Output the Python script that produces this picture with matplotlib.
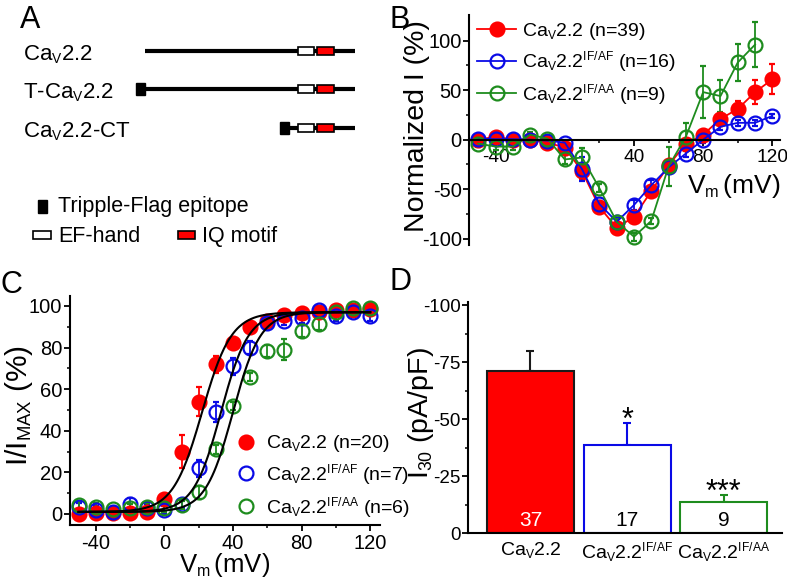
import numpy as np
import matplotlib.pyplot as plt
import matplotlib._mathtext as mathtext_internals
from matplotlib.patches import Rectangle
from matplotlib.lines import Line2D

plt.rcParams['font.family'] = ['Liberation Sans', 'DejaVu Sans']
plt.rcParams['mathtext.fontset'] = 'custom'
plt.rcParams['mathtext.rm'] = 'Liberation Sans'
plt.rcParams['mathtext.it'] = 'Liberation Sans:italic'
plt.rcParams['mathtext.bf'] = 'Liberation Sans:bold'
plt.rcParams['axes.unicode_minus'] = False
# smaller sub/superscripts, closer to the original figure
mathtext_internals.SHRINK_FACTOR = 0.62

RED = '#ff0000'
BLUE = '#0a0ae6'
GREEN = '#1e8c1e'

CA = 'Ca$_\\mathrm{V}$2.2'
names = [CA + ' (n=39)', CA + '$^\\mathrm{IF/AF}$ (n=16)', CA + '$^\\mathrm{IF/AA}$ (n=9)']
names_c = [CA + ' (n=20)', CA + '$^\\mathrm{IF/AF}$ (n=7)', CA + '$^\\mathrm{IF/AA}$ (n=6)']
VM = 'V$_\\mathrm{m}\\,$(mV)'

# ---- panel A: constructs (positions as fraction of channel length)
constructs = [CA, 'T-' + CA, CA + '-CT']
seg_start = [0.0, 0.0, 0.686]
has_flag = [False, True, True]
ef_hand = (0.728, 0.807)
iq_motif = (0.821, 0.902)

# ---- panel B: I-V
volt = [-50, -40, -30, -20, -10, 0, 10, 20, 30, 40, 50, 60, 70, 80, 90, 100, 110, 120]
iv_wt = [0, 3, 0, 0, -3, -8, -32, -68, -89, -78, -52, -26, -4, 5, 21, 31, 48, 61]
iv_wt_err = [2, 2, 2, 2, 2, 3, 8, 4, 3, 4, 4, 4, 3, 3, 5, 8, 12, 15]
iv_af = [1, 0.5, 0.5, 0, -1, -3, -30, -65, -83, -66, -46, -28, -14, 0, 13, 17, 17, 24]
iv_af_err = [3, 4, 3, 3, 2, 3, 12, 3, 4, 5, 5, 5, 4, 3, 3, 3, 3, 2]
iv_aa = [-4, -7, -7, 5, 1, -20, -18, -49, -83, -98, -82, -27, 3, 48, 44, 78, 96, np.nan]
iv_aa_err = [3, 3, 3, 3, 3, 5, 10, 4, 3, 4, 3, 20, 14, 26, 16, 19, 23, 0]

# ---- panel C: activation
act_wt = [0, 0.5, 0.5, 0.6, 1, 7, 30, 54, 72, 82, 90, 93, 95.5, 96.8, 97, 98, 98, 98.5]
act_wt_err = [1, 1, 1, 1, 1, 2, 8, 7, 4, 2, 2, 1, 1, 1, 1, 1, 1, 1]
act_af = [3.5, 2, 1, 4.6, 2.7, 2, 5, 22, 49, 71, 80, 92, 93, 94, 98, 95, 97, 95]
act_af_err = [2, 2, 1, 3, 2, 2, 2, 4, 5, 4, 3, 3, 2, 2, 2, 2, 2, 2]
act_aa = [4.3, 3.5, 2.2, 2.7, 3.5, 3, 4.3, 10.4, 31, 52, 66, 78.4, 79, 88, 91.4, 97, 99, 99]
act_aa_err = [2, 2, 1, 2, 2, 2, 2, 3, 2, 2, 2, 3, 5, 3, 3, 2, 2, 2]
# Boltzmann fit parameters
fit_vhalf = [22, 33, 40]
fit_k = [8.5, 8, 8]
fit_bottom = 1
fit_top = 97

# ---- panel D: I30
groups = [CA, CA + '$^\\mathrm{IF/AF}$', CA + '$^\\mathrm{IF/AA}$']
i30 = [-71.3, -38.6, -13.5]
i30_err = [8.4, 9.7, 3.2]
n_cells = ['37', '17', '9']
signif = ['', '*', '***']

colors = [RED, BLUE, GREEN]

fig = plt.figure(figsize=(7.87, 5.78), dpi=100)

# panel letters
for lab, x, y in [('A', 20 / 787, 1 - 28.5 / 578), ('B', 389 / 787, 1 - 28.5 / 578),
                  ('C', 0 / 787, 1 - 293 / 578), ('D', 390 / 787, 1 - 290 / 578)]:
    fig.text(x, y, lab, fontsize=22, va='baseline', ha='left')

# ================= A
axA = fig.add_axes([0, 0.5, 0.5, 0.5])
axA.set_xlim(-145 / 210, (393.5 - 145) / 210)
axA.set_ylim(289, 0)
axA.axis('off')
rows = [51, 89, 128]
for name, y, s, fl in zip(constructs, rows, seg_start, has_flag):
    axA.text(-0.58, y + 9, name, fontsize=16, va='baseline')
    axA.plot([s, 1.0], [y, y], color='k', lw=3, solid_capstyle='butt', zorder=1)
    if fl:
        axA.add_patch(Rectangle((s - 0.043, y - 6), 0.043, 12, color='k', zorder=2))
    axA.add_patch(Rectangle((ef_hand[0], y - 3.6), ef_hand[1] - ef_hand[0], 7.2,
                            fc='white', ec='k', lw=1.2, zorder=3))
    axA.add_patch(Rectangle((iq_motif[0], y - 3.6), iq_motif[1] - iq_motif[0], 7.2,
                            fc=RED, ec='k', lw=1.2, zorder=3))
axA.add_patch(Rectangle((-0.508, 199.5), 0.04, 13, color='k'))
axA.text(-0.413, 212.3, 'Tripple-Flag epitope', fontsize=15.5, va='baseline')
axA.add_patch(Rectangle((-0.532, 231), 0.083, 8, fc='white', ec='k', lw=1.2))
axA.text(-0.413, 241.7, 'EF-hand', fontsize=15.5, va='baseline')
axA.add_patch(Rectangle((0.159, 231), 0.079, 8, fc=RED, ec='k', lw=1.2))
axA.text(0.27, 241.7, 'IQ motif', fontsize=15.5, va='baseline')


def style_axis(ax, fs):
    for sp in ['top', 'right']:
        ax.spines[sp].set_visible(False)
    for sp in ['left', 'bottom']:
        ax.spines[sp].set_linewidth(1.5)
    ax.tick_params(which='major', length=4, width=1.3, labelsize=fs, pad=1.5)
    ax.tick_params(which='minor', length=2.5, width=1.1)


# ================= B
axB = fig.add_axes([469.3 / 787, 1 - 245 / 578, 310.7 / 787, 230 / 578])
style_axis(axB, 14.5)
axB.spines['bottom'].set_position(('data', 0))
iv_sets = [(iv_wt, iv_wt_err), (iv_af, iv_af_err), (iv_aa, iv_aa_err)]
for (vals, err), c, filled in zip(iv_sets, colors, [True, False, False]):
    axB.errorbar(volt, vals, yerr=err, fmt='-o', color=c, lw=1.3, ms=10,
                 mfc=c if filled else 'none', mec=c, mew=1.6,
                 elinewidth=1.3, capsize=2.2, capthick=1.3)
axB.set_xlim(-55.2, 124.4)
axB.set_ylim(-106.4, 125.9)
axB.set_xticks([-40, 0, 40, 80, 120])
axB.set_xticklabels(['-40', '', '40', '80', '120'])
axB.set_xticks([-20, 20, 60, 100], minor=True)
axB.set_yticks([-100, -50, 0, 50, 100])
axB.set_yticks([-75, -25, 25, 75], minor=True)
axB.tick_params(axis='x', pad=3, labelsize=13.8)
axB.text(1.0, 0.225, VM, transform=axB.transAxes, ha='right',
         va='baseline', fontsize=19)
axB.text(-0.146, 0.515, 'Normalized I (%)', transform=axB.transAxes, rotation=90,
         rotation_mode='anchor', ha='center', va='baseline', fontsize=20.5)
hB = [Line2D([], [], color=c, lw=1.3, marker='o', ms=10, mfc=c if f else 'none', mec=c, mew=1.6)
      for c, f in zip(colors, [True, False, False])]
axB.legend(hB, names, loc='upper left', bbox_to_anchor=(0.025, 0.975), frameon=False,
           fontsize=14, handlelength=2.0, handletextpad=0.3, labelspacing=0.4,
           borderpad=0, borderaxespad=0)

# ================= C
axC = fig.add_axes([70 / 787, 1 - 525 / 578, 310 / 787, 229 / 578])
style_axis(axC, 14.5)
act_sets = [(act_wt, act_wt_err), (act_af, act_af_err), (act_aa, act_aa_err)]
for (vals, err), c, filled in zip(act_sets, colors, [True, False, False]):
    axC.errorbar(volt, vals, yerr=err, fmt='o', color=c, ms=10,
                 mfc=c if filled else 'none', mec=c, mew=1.6,
                 elinewidth=1.3, capsize=2.2, capthick=1.3)
vfit = np.linspace(-50, 120, 300)
for vh, k in zip(fit_vhalf, fit_k):
    axC.plot(vfit, fit_bottom + (fit_top - fit_bottom) / (1 + np.exp((vh - vfit) / k)),
             color='k', lw=1.5, zorder=5)
axC.set_xlim(-55, 125.7)
axC.set_ylim(-5.3, 104.8)
axC.set_xticks([-40, 0, 40, 80, 120])
axC.set_xticks([-20, 20, 60, 100], minor=True)
axC.set_yticks([0, 20, 40, 60, 80, 100])
axC.set_yticks([10, 30, 50, 70, 90], minor=True)
axC.tick_params(axis='x', pad=2.5)
axC.text(0.5, -0.204, VM, transform=axC.transAxes, ha='center',
         va='baseline', fontsize=18.5)
axC.text(-0.140, 0.524, 'I/I$_\\mathrm{MAX}$ (%)', transform=axC.transAxes, rotation=90,
         rotation_mode='anchor', ha='center', va='baseline', fontsize=21.5)
hC = [Line2D([], [], ls='none', marker='o', ms=10, mfc=c if f else 'none', mec=c, mew=1.6)
      for c, f in zip(colors, [True, False, False])]
leg = axC.legend(hC, names_c, loc='upper left', bbox_to_anchor=(0.535, 0.40), frameon=False,
                 fontsize=14, handlelength=1.0, handletextpad=0.55, labelspacing=0.4,
                 borderpad=0, borderaxespad=0)
leg.set_clip_on(False)

# ================= D
axD = fig.add_axes([468.3 / 787, 1 - 533.3 / 578, 313.4 / 787, 231.6 / 578])
style_axis(axD, 13.5)
xpos = np.arange(len(groups))
axD.bar(xpos, i30, width=0.9, color=[RED, 'white', 'white'],
        edgecolor=['#1a1a1a', BLUE, GREEN], linewidth=1.5, zorder=2)
for x, v, e, c in zip(xpos, i30, i30_err, ['#1a1a1a', BLUE, GREEN]):
    axD.errorbar([x], [v], yerr=[[e], [0]], fmt='none', ecolor=c, elinewidth=1.5,
                 capsize=3, capthick=1.5, zorder=1)
for x, n, tc in zip(xpos, n_cells, ['white', 'k', 'k']):
    axD.text(x, -5.5, n, ha='center', va='center', fontsize=15, color=tc, zorder=3)
for x, v, e, s in zip(xpos, i30, i30_err, signif):
    if s:
        axD.text(x, v - e + 2.5, s, ha='center', va='baseline', fontsize=22)
axD.set_xlim(-0.643, 2.6)
axD.set_ylim(0, -101.5)
axD.set_yticks([0, -25, -50, -75, -100])
axD.set_yticks([-12.5, -37.5, -62.5, -87.5], minor=True)
axD.set_xticks(xpos)
axD.set_xticklabels(groups)
axD.tick_params(axis='x', length=0, pad=5, labelsize=14)
axD.text(-0.13, 0.518, 'I$_\\mathrm{30}$ (pA/pF)', transform=axD.transAxes, rotation=90,
         rotation_mode='anchor', ha='center', va='baseline', fontsize=20.5)

fig.savefig('out.png', dpi=100)
